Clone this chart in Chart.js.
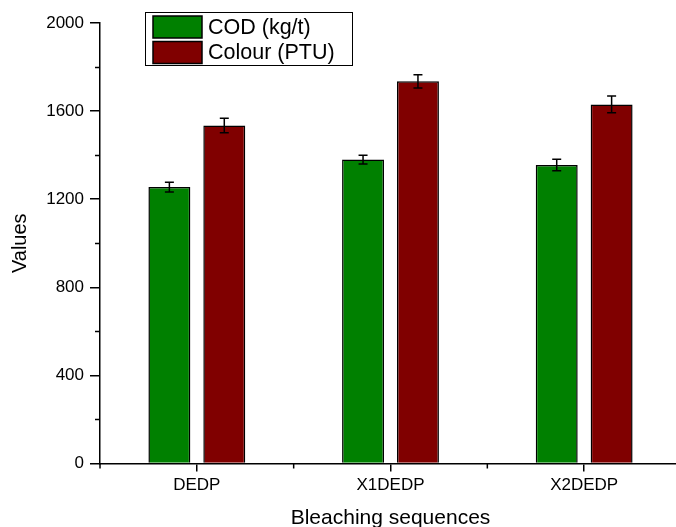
<!DOCTYPE html>
<html><head><meta charset="utf-8">
<script src="https://cdn.jsdelivr.net/npm/chart.js@4.4.0/dist/chart.umd.min.js"></script>
<style>
html,body{margin:0;padding:0;background:#fff;overflow:hidden;}
#wrap{position:relative;width:676px;height:527px;overflow:hidden;background:#fff;}
#c{position:absolute;left:0;top:0;width:700px;height:545px;}
</style></head><body>
<div id="wrap"><canvas id="c" width="700" height="545"></canvas></div>
<script>
const categories = ['DEDP', 'X1DEDP', 'X2DEDP'];
const codValues = [1255, 1380, 1355];
const codErrors = [22, 20, 26];
const colourValues = [1535, 1735, 1630];
const colourErrors = [33, 30, 38];
const yMajorTicks = [0, 400, 800, 1200, 1600, 2000];
const yMinorTicks = [200, 600, 1000, 1400, 1800];
const seriesLabels = ['COD (kg/t)', 'Colour (PTU)'];

const FONT = '"Liberation Sans", Arial, sans-serif';

const errorBarPlugin = {
  id: 'errorBars',
  afterDatasetsDraw(chart) {
    const ctx = chart.ctx;
    const y = chart.scales.y;
    ctx.save();
    ctx.strokeStyle = '#000';
    ctx.lineWidth = 1.5;
    chart.data.datasets.forEach((ds, di) => {
      const meta = chart.getDatasetMeta(di);
      meta.data.forEach((bar, i) => {
        const v = ds.data[i], e = ds.errors[i];
        const yt = y.getPixelForValue(v + e), yb = y.getPixelForValue(v - e);
        const x = bar.x, w = 4.5;
        ctx.beginPath();
        ctx.moveTo(x, yt); ctx.lineTo(x, yb);
        ctx.moveTo(x - w, yt); ctx.lineTo(x + w, yt);
        ctx.moveTo(x - w, yb); ctx.lineTo(x + w, yb);
        ctx.stroke();
      });
    });
    ctx.restore();
  }
};

const minorTickPlugin = {
  id: 'minorTicks',
  afterDraw(chart) {
    const ctx = chart.ctx;
    const xs = chart.scales.x, ys = chart.scales.y;
    ctx.save();
    ctx.strokeStyle = '#000';
    ctx.lineWidth = 1.5;
    ctx.beginPath();
    yMinorTicks.forEach(v => {
      const py = Math.round(ys.getPixelForValue(v)) + 0.5;
      ctx.moveTo(ys.right - 5, py); ctx.lineTo(ys.right, py);
    });
    const n = categories.length;
    const bounds = [xs.left];
    for (let i = 0; i < n - 1; i++) {
      bounds.push((xs.getPixelForValue(i) + xs.getPixelForValue(i + 1)) / 2);
    }
    bounds.push(xs.right);
    bounds.forEach(px => {
      ctx.moveTo(px, xs.top); ctx.lineTo(px, xs.top + 5);
    });
    ctx.stroke();
    ctx.restore();
  }
};

const legendPlugin = {
  id: 'boxLegend',
  afterDraw(chart) {
    const ctx = chart.ctx;
    ctx.save();
    ctx.strokeStyle = '#000';
    ctx.lineWidth = 1;
    ctx.strokeRect(145.5, 12.5, 207, 53);
    ctx.font = '21.5px ' + FONT;
    ctx.textBaseline = 'middle';
    ctx.textAlign = 'left';
    chart.data.datasets.forEach((ds, i) => {
      const top = 16 + i * 25.5;
      ctx.fillStyle = ds.backgroundColor;
      ctx.fillRect(153, top, 49, 22);
      ctx.lineWidth = 1.5;
      ctx.strokeRect(153, top, 49, 22);
      ctx.fillStyle = '#000';
      ctx.fillText(ds.label, 208, top + 12);
    });
    ctx.restore();
  }
};

new Chart(document.getElementById('c'), {
  type: 'bar',
  data: {
    labels: categories,
    datasets: [
      { label: seriesLabels[0], data: codValues, errors: codErrors,
        backgroundColor: '#008000', borderColor: '#000', borderWidth: 1.5,
        categoryPercentage: 0.567, barPercentage: 0.764 },
      { label: seriesLabels[1], data: colourValues, errors: colourErrors,
        backgroundColor: '#800000', borderColor: '#000', borderWidth: 1.5,
        categoryPercentage: 0.567, barPercentage: 0.764 }
    ]
  },
  options: {
    responsive: false,
    devicePixelRatio: 1,
    animation: false,
    layout: { padding: { top: 23, right: 19, left: 0, bottom: 0 } },
    plugins: { legend: { display: false }, tooltip: { enabled: false } },
    scales: {
      x: {
        type: 'category',
        offset: true,
        grid: { display: true, drawOnChartArea: false, drawTicks: true, tickLength: 8,
                offset: false, color: '#000', lineWidth: 1.5 },
        border: { display: true, color: '#000', width: 1.5 },
        ticks: { color: '#000', font: { family: FONT, size: 17 }, padding: 4, maxRotation: 0 },
        title: { display: true, text: 'Bleaching sequences', color: '#000',
                 font: { family: FONT, size: 21 }, padding: { top: 0, bottom: 14 } },
        afterFit(s) { s.height = 545 - 463.5; }
      },
      y: {
        min: 0, max: 2000,
        afterBuildTicks(s) { s.ticks = yMajorTicks.map(v => ({ value: v })); },
        grid: { display: true, drawOnChartArea: false, drawTicks: true, tickLength: 10,
                color: '#000', lineWidth: 1.5 },
        border: { display: true, color: '#000', width: 1.5 },
        ticks: { color: '#000', font: { family: FONT, size: 17 }, padding: 6,
                 callback: v => String(v) },
        title: { display: true, text: 'Values', color: '#000',
                 font: { family: FONT, size: 20 }, padding: { top: 8, bottom: 0 } },
        afterFit(s) { s.width = 100; }
      }
    }
  },
  plugins: [errorBarPlugin, minorTickPlugin, legendPlugin]
});
</script>
</body></html>
